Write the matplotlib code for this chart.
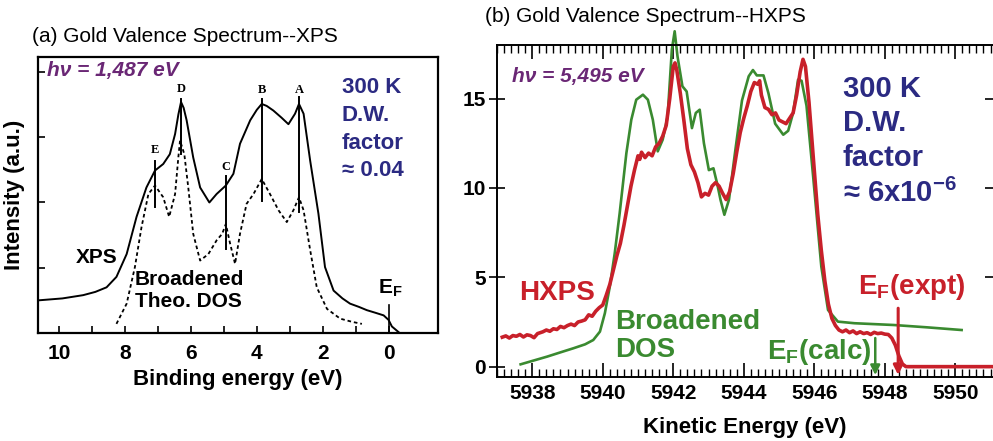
"""
Gold valence spectra: (a) XPS at 1487 eV vs broadened DOS, (b) HXPS at 5495 eV.
    python plot.py
"""
import matplotlib
matplotlib.use("Agg")
import matplotlib.pyplot as plt

plt.rcParams["font.family"] = ["Liberation Sans", "DejaVu Sans"]
plt.rcParams["mathtext.fontset"] = "custom"
plt.rcParams["mathtext.rm"] = "Liberation Sans"
plt.rcParams["mathtext.bf"] = "Liberation Sans:bold"

# ---- panel (a): binding energy (eV) vs intensity (a.u.)
xps_be = [10.64, 9.9, 9.27, 8.9, 8.56, 8.26, 7.95, 7.65, 7.35, 7.09, 6.84, 6.64,
          6.48, 6.38, 6.30, 6.22, 6.13, 5.93, 5.72, 5.44, 5.22, 4.94, 4.71, 4.51,
          4.20, 4.0, 3.85, 3.70, 3.50, 3.25, 3.04, 2.84, 2.72, 2.58, 2.38, 2.13,
          1.93, 1.67, 1.40, 1.17, 0.90, 0.66, 0.40, 0.15, 0.0, -0.1, -0.3]
xps_int = [0.50, 0.53, 0.58, 0.63, 0.70, 0.86, 1.21, 1.78, 2.23, 2.49, 2.59, 2.74,
           3.05, 3.35, 3.54, 3.45, 3.26, 2.69, 2.23, 2.00, 2.13, 2.26, 2.44, 2.90,
           3.26, 3.42, 3.51, 3.48, 3.41, 3.30, 3.20, 3.36, 3.51, 3.36, 2.64, 1.83,
           1.01, 0.65, 0.53, 0.45, 0.40, 0.35, 0.31, 0.27, 0.20, 0.10, 0.015]

dos_be = [8.26, 7.95, 7.70, 7.50, 7.29, 7.09, 6.84, 6.66, 6.48, 6.38, 6.33, 6.20,
          6.08, 5.93, 5.72, 5.47, 5.22, 5.05, 4.94, 4.81, 4.66, 4.51, 4.31, 4.10,
          3.85, 3.60, 3.34, 3.09, 2.89, 2.72, 2.58, 2.38, 2.18, 1.87, 1.47, 1.10, 0.81]
dos_int = [0.14, 0.45, 1.01, 1.62, 2.13, 2.26, 2.08, 1.78, 2.13, 2.70, 2.95, 2.74,
           2.23, 1.52, 1.11, 1.21, 1.42, 1.52, 1.67, 1.37, 1.06, 1.52, 1.98, 2.13,
           2.36, 2.13, 1.88, 1.70, 1.88, 2.08, 1.88, 1.27, 0.70, 0.37, 0.22, 0.17, 0.14]

peak_names = ["E", "D", "C", "B", "A"]
peak_be = [7.09, 6.30, 4.94, 3.85, 2.72]
peak_top = [2.64, 3.59, 2.41, 3.59, 3.61]
peak_bot = [1.93, 2.74, 1.29, 2.03, 1.85]
peak_lab = [2.80, 3.74, 2.54, 3.72, 3.72]

# ---- panel (b): kinetic energy (eV) vs intensity
dos_ke = [5937.67, 5938.0, 5938.42, 5938.8, 5939.17, 5939.5, 5939.73, 5939.92,
          5940.06, 5940.20, 5940.34, 5940.48, 5940.67, 5940.81, 5940.95, 5941.14,
          5941.28, 5941.42, 5941.56, 5941.70, 5941.84, 5941.96, 5942.04, 5942.12,
          5942.26, 5942.38, 5942.53, 5942.64, 5942.75, 5942.87, 5943.01, 5943.14,
          5943.25, 5943.34, 5943.45, 5943.58, 5943.76, 5943.95, 5944.14, 5944.26,
          5944.37, 5944.56, 5944.70, 5944.89, 5945.12, 5945.26, 5945.40, 5945.54,
          5945.64, 5945.78, 5945.97, 5946.20, 5946.39, 5946.67, 5947.14, 5948.26,
          5949.2, 5950.18]
dos_y = [0.13, 0.32, 0.56, 0.80, 1.03, 1.25, 1.49, 1.96,
         2.99, 4.48, 6.35, 8.59, 11.95, 13.82, 14.94, 15.22,
         14.94, 13.82, 12.05, 12.70, 14.0, 17.74, 18.77, 17.37,
         15.69, 15.40, 13.35, 14.20, 14.38, 12.50, 11.00, 11.10,
         10.20, 9.34, 8.50, 9.34, 12.10, 14.90, 16.25, 16.60,
         16.30, 16.30, 15.30, 13.60, 12.98, 13.20, 14.20, 16.06,
         16.00, 14.60, 10.60, 5.60, 3.17, 2.52, 2.43, 2.33,
         2.20, 2.05]

hx_ke = [5937.15, 5937.25, 5937.35, 5937.45, 5937.55, 5937.65, 5937.75, 5937.85,
         5937.95, 5938.05, 5938.15, 5938.3, 5938.4, 5938.5, 5938.6, 5938.7,
         5938.8, 5938.9, 5939.0, 5939.1, 5939.2, 5939.3, 5939.4, 5939.5,
         5939.6, 5939.7, 5939.8, 5939.9, 5940.0, 5940.1, 5940.2, 5940.3,
         5940.4, 5940.5, 5940.6, 5940.7, 5940.8, 5940.9, 5941.0, 5941.05,
         5941.1, 5941.2, 5941.3, 5941.4, 5941.5, 5941.6, 5941.7, 5941.8,
         5941.9, 5942.0, 5942.05, 5942.1, 5942.2, 5942.3, 5942.4, 5942.5,
         5942.6, 5942.7, 5942.8, 5942.9, 5943.0, 5943.1, 5943.2, 5943.3,
         5943.4, 5943.5, 5943.6, 5943.7, 5943.8, 5943.9, 5944.0, 5944.1,
         5944.2, 5944.3, 5944.4, 5944.45, 5944.5, 5944.6, 5944.7, 5944.8,
         5944.9, 5945.0, 5945.1, 5945.2, 5945.3, 5945.4, 5945.5, 5945.6,
         5945.68, 5945.75, 5945.85, 5946.0, 5946.1, 5946.2, 5946.3, 5946.4,
         5946.5, 5946.6, 5946.7, 5946.8, 5946.9, 5947.0, 5947.1, 5947.2,
         5947.3, 5947.4, 5947.5, 5947.6, 5947.7, 5947.8, 5947.9, 5948.0,
         5948.1, 5948.2, 5948.3, 5948.4, 5948.5, 5948.6, 5951.1]
hx_y = [1.65, 1.72, 1.60, 1.74, 1.70, 1.80, 1.66, 1.78,
        1.74, 1.62, 1.85, 1.95, 2.05, 1.98, 2.12, 2.08,
        2.25, 2.18, 2.30, 2.38, 2.30, 2.50, 2.55, 2.62,
        2.90, 2.82, 3.10, 3.30, 3.45, 4.00, 4.60, 5.40,
        6.20, 6.90, 7.90, 9.00, 10.10, 11.00, 11.80, 11.60,
        12.00, 11.70, 11.95, 11.80, 12.30, 12.50, 12.90, 13.50,
        15.00, 16.80, 17.00, 16.60, 15.30, 13.80, 12.20, 11.30,
        10.90, 10.30, 9.50, 9.70, 9.60, 10.10, 10.30, 10.10,
        9.70, 9.35, 9.80, 10.80, 12.00, 13.10, 13.90, 14.60,
        15.40, 15.90, 15.80, 16.00, 15.20, 14.50, 14.40, 14.10,
        14.20, 13.80, 13.70, 13.60, 13.90, 14.20, 15.20, 16.50,
        17.20, 16.80, 14.80, 11.00, 8.50, 6.50, 4.80, 3.50,
        2.70, 2.30, 2.05, 1.95, 2.05, 1.90, 2.00, 1.85,
        1.95, 1.85, 1.90, 1.80, 1.92, 1.85, 1.88, 1.82,
        1.80, 1.60, 1.20, 0.60, 0.15, 0.00, 0.00]

ef_calc = 5947.73
ef_expt = 5948.38

PURPLE = "#6a2775"
NAVY = "#2b2a82"
RED = "#c8202a"
GREEN = "#3a8a30"


def panel_a(fig):
    ax = fig.add_axes([0.0383, 0.2449, 0.4028, 0.6259])
    ax.plot(xps_be, xps_int, color="black", lw=1.4)
    ax.plot(dos_be, dos_int, color="black", lw=1.3, dashes=(2, 1.6))
    for name, x, top, bot, lab in zip(peak_names, peak_be, peak_top, peak_bot, peak_lab):
        ax.plot([x, x], [bot, top], color="black", lw=1.4)
        ax.text(x, lab, name, ha="center", va="center", fontsize=9,
                fontweight="bold", family="Liberation Serif")
    ax.plot([0, 0], [0, 0.43], color="black", lw=1.2)

    ax.set_xlim(10.64, -1.5)
    ax.set_ylim(0, 4.23)
    ax.set_xticks([10, 8, 6, 4, 2, 0])
    ax.set_xticks([9, 7, 5, 3, 1], minor=True)
    ax.set_yticks([1, 2, 3, 4])
    ax.set_yticklabels([])
    ax.tick_params(axis="x", which="both", direction="in", length=5, width=1.2,
                   labelsize=15, pad=8)
    ax.tick_params(axis="y", direction="in", length=5, width=1.2)
    for lab in ax.get_xticklabels():
        lab.set_fontweight("bold")
    for s in ax.spines.values():
        s.set_linewidth(1.6)
    ax.set_xlabel("Binding energy (eV)", fontsize=16, fontweight="bold", labelpad=4)
    ax.set_ylabel("Intensity (a.u.)", fontsize=16, fontweight="bold", labelpad=6)

    ax.text(10.36, 4.02, "hν = 1,487 eV", color=PURPLE, fontsize=15,
            fontweight="bold", style="italic", ha="left", va="center")
    ax.text(1.42, 3.12, "300 K\nD.W.\nfactor\n≈ 0.04", color=NAVY, fontsize=16,
            fontweight="bold", ha="left", va="center", linespacing=1.42)
    ax.text(8.87, 1.16, "XPS", fontsize=15, fontweight="bold", ha="center", va="center")
    ax.text(7.70, 0.65, "Broadened\nTheo. DOS", fontsize=15, fontweight="bold",
            ha="left", va="center", linespacing=1.15)
    ax.text(-0.05, 0.68, r"E$_\mathbf{F}$", fontsize=15, fontweight="bold",
            ha="center", va="center")
    fig.text(0.032, 0.918, "(a) Gold Valence Spectrum--XPS", fontsize=15,
             ha="left", va="center")


def panel_b(fig):
    ax = fig.add_axes([0.5005, 0.1451, 0.4995, 0.7528])
    ax.plot(dos_ke, dos_y, color=GREEN, lw=1.9, clip_on=False)
    ax.plot(hx_ke, hx_y, color=RED, lw=2.6)
    ax.annotate("", xy=(ef_calc, -0.47), xytext=(ef_calc, 1.6),
                arrowprops=dict(arrowstyle="-|>", color=GREEN, lw=1.8,
                                mutation_scale=14, shrinkA=0, shrinkB=0))
    ax.annotate("", xy=(ef_expt, -0.47), xytext=(ef_expt, 3.27),
                arrowprops=dict(arrowstyle="-|>", color=RED, lw=2.2,
                                mutation_scale=14, shrinkA=0, shrinkB=0))

    ax.set_xlim(5937.12, 5951.07)
    ax.set_ylim(-0.58, 18.0)
    ax.set_xticks([5938, 5940, 5942, 5944, 5946, 5948, 5950])
    ax.set_xticks([5937 + 0.2 * i for i in range(71)], minor=True)
    ax.set_yticks([0, 5, 10, 15])
    ax.tick_params(axis="x", which="major", direction="in", length=10, width=1.2,
                   top=True, labelsize=15, pad=5)
    ax.tick_params(axis="x", which="minor", direction="in", length=6, width=1.0, top=True)
    ax.tick_params(axis="y", direction="inout", length=12, width=1.2, right=True,
                   labelsize=15, pad=2)
    for lab in ax.get_xticklabels() + ax.get_yticklabels():
        lab.set_fontweight("bold")
    ax.spines["right"].set_visible(False)
    for s in ["left", "top", "bottom"]:
        ax.spines[s].set_linewidth(1.4)
    ax.set_xlabel("Kinetic Energy (eV)", fontsize=16, fontweight="bold", labelpad=10)

    ax.text(5937.42, 16.25, "hν = 5,495 eV", color=PURPLE, fontsize=15,
            fontweight="bold", style="italic", ha="left", va="center")
    ax.text(5946.81, 12.6, "300 K\nD.W.\nfactor\n" + r"≈ 6x10$^{\mathbf{-6}}$",
            color=NAVY, fontsize=21, fontweight="bold", ha="left", va="center",
            linespacing=1.3)
    ax.text(5937.62, 4.1, "HXPS", color=RED, fontsize=20, fontweight="bold",
            ha="left", va="center")
    ax.text(5940.34, 1.72, "Broadened\nDOS", color=GREEN, fontsize=20,
            fontweight="bold", ha="left", va="center", linespacing=1.1)
    ax.text(5944.65, 0.8, r"E$_\mathbf{F}$(calc)", color=GREEN, fontsize=20,
            fontweight="bold", ha="left", va="center")
    ax.text(5947.23, 4.48, r"E$_\mathbf{F}$(expt)", color=RED, fontsize=20,
            fontweight="bold", ha="left", va="center")
    fig.text(0.4885, 0.962, "(b) Gold Valence Spectrum--HXPS", fontsize=15,
             ha="left", va="center")


if __name__ == "__main__":
    fig = plt.figure(figsize=(9.93, 4.41), dpi=100)
    panel_a(fig)
    panel_b(fig)
    fig.savefig("out.png", dpi=100)
